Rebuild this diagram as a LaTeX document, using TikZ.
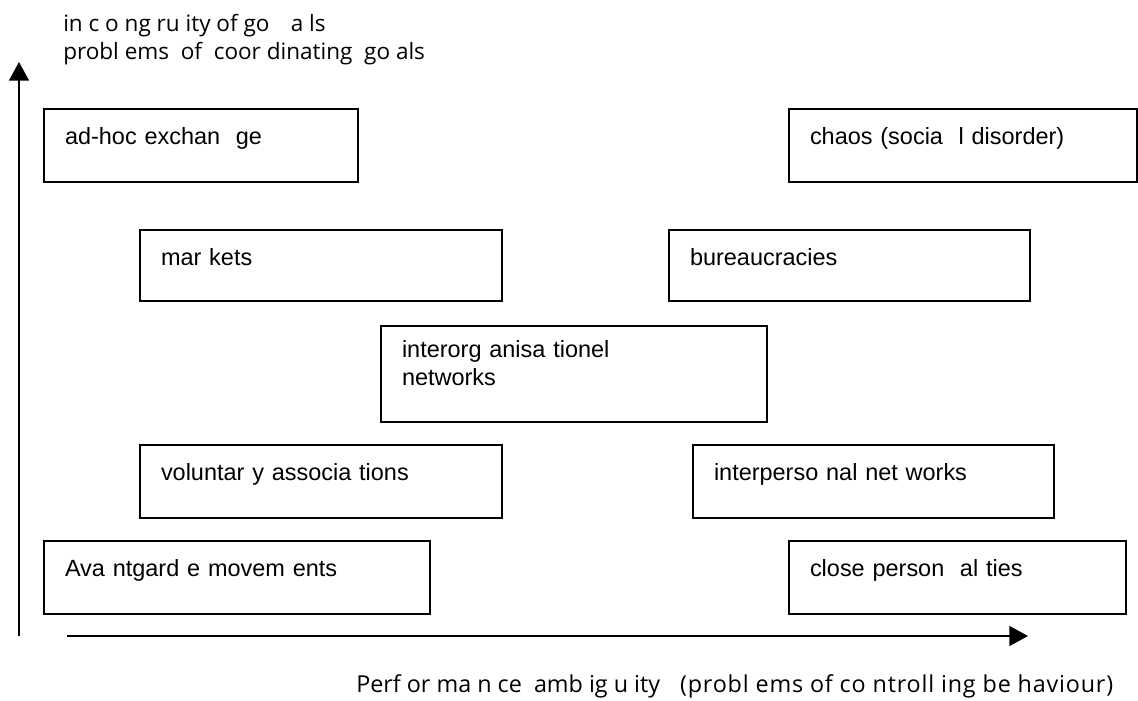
\documentclass[tikz,border=0pt]{standalone}
\usepackage{fontspec}
\setmainfont{Liberation Sans}
\newfontfamily\axisfont{Open Sans}
\newfontfamily\axiswidefont[LetterSpace=3.5]{Open Sans}
\usetikzlibrary{arrows.meta}
\begin{document}
\begin{tikzpicture}[x=0.75pt,y=-0.75pt,
  box/.style={draw, line width=1.5pt, anchor=north west, inner xsep=15.75pt, inner ysep=0pt,
    align=left, font=\fontsize{17.6}{21}\selectfont, text height=26.25pt, text depth=28.5pt},
  lowbox/.style={box, text depth=27pt},
  axis/.style={line width=1.1pt, -{Triangle[length=14pt,width=15pt]}},
  lbl/.style={anchor=base west, inner sep=0pt, font=\axisfont\fontsize{16.9}{21}\selectfont}]
\useasboundingbox (0,0) rectangle (1138,700);

% axes
\coordinate (ybot) at (19,636);
\coordinate (ytop) at (19,62);
\coordinate (xleft) at (67,636);
\coordinate (xright) at (1028,636);
\draw[axis] (ybot) -- (ytop);
\draw[axis] (xleft) -- (xright);

% axis labels
\node[lbl] (title1) at (63,31) {in c o ng ru ity of go\hspace{16pt}a ls};
\node[lbl] (title2) at (63,59) {probl ems\ \ of\ \ coor dinating\ \ go als};
\node[lbl, font=\axisfont\fontsize{17.5}{21}\selectfont] (xlabel) at (356,692) {Perf or ma n ce\ \ amb ig u ity\hspace{15pt}{\axiswidefont\fontsize{17.5}{21}\selectfont(probl ems of co ntroll ing be haviour)}};

% boxes
\node[box, text width=204pt] (adhoc) at (43,108) {ad-hoc exchan\ \ ge};
\node[box, text width=229.5pt] (chaos) at (788,108) {chaos (socia\ \ l disorder)};
\node[lowbox, text width=240pt] (markets) at (139,229) {mar kets};
\node[lowbox, text width=239.25pt] (bureau) at (668,229) {bureaucracies};
\node[box, text width=258pt, text height=23.25pt, text depth=48.75pt] (interorg) at (380,325) {interorg anisa tionel\\networks};
\node[box, text width=240pt] (volunt) at (139,444) {voluntar y\ associa\ tions};
\node[box, text width=239.25pt] (interpers) at (692,444) {interperso\ nal net works};
\node[box, text width=258pt] (avant) at (43,540) {Ava ntgard e\ movem ents};
\node[box, text width=221.25pt] (close) at (788,540) {close person\ \ al ties};
\end{tikzpicture}
\end{document}
